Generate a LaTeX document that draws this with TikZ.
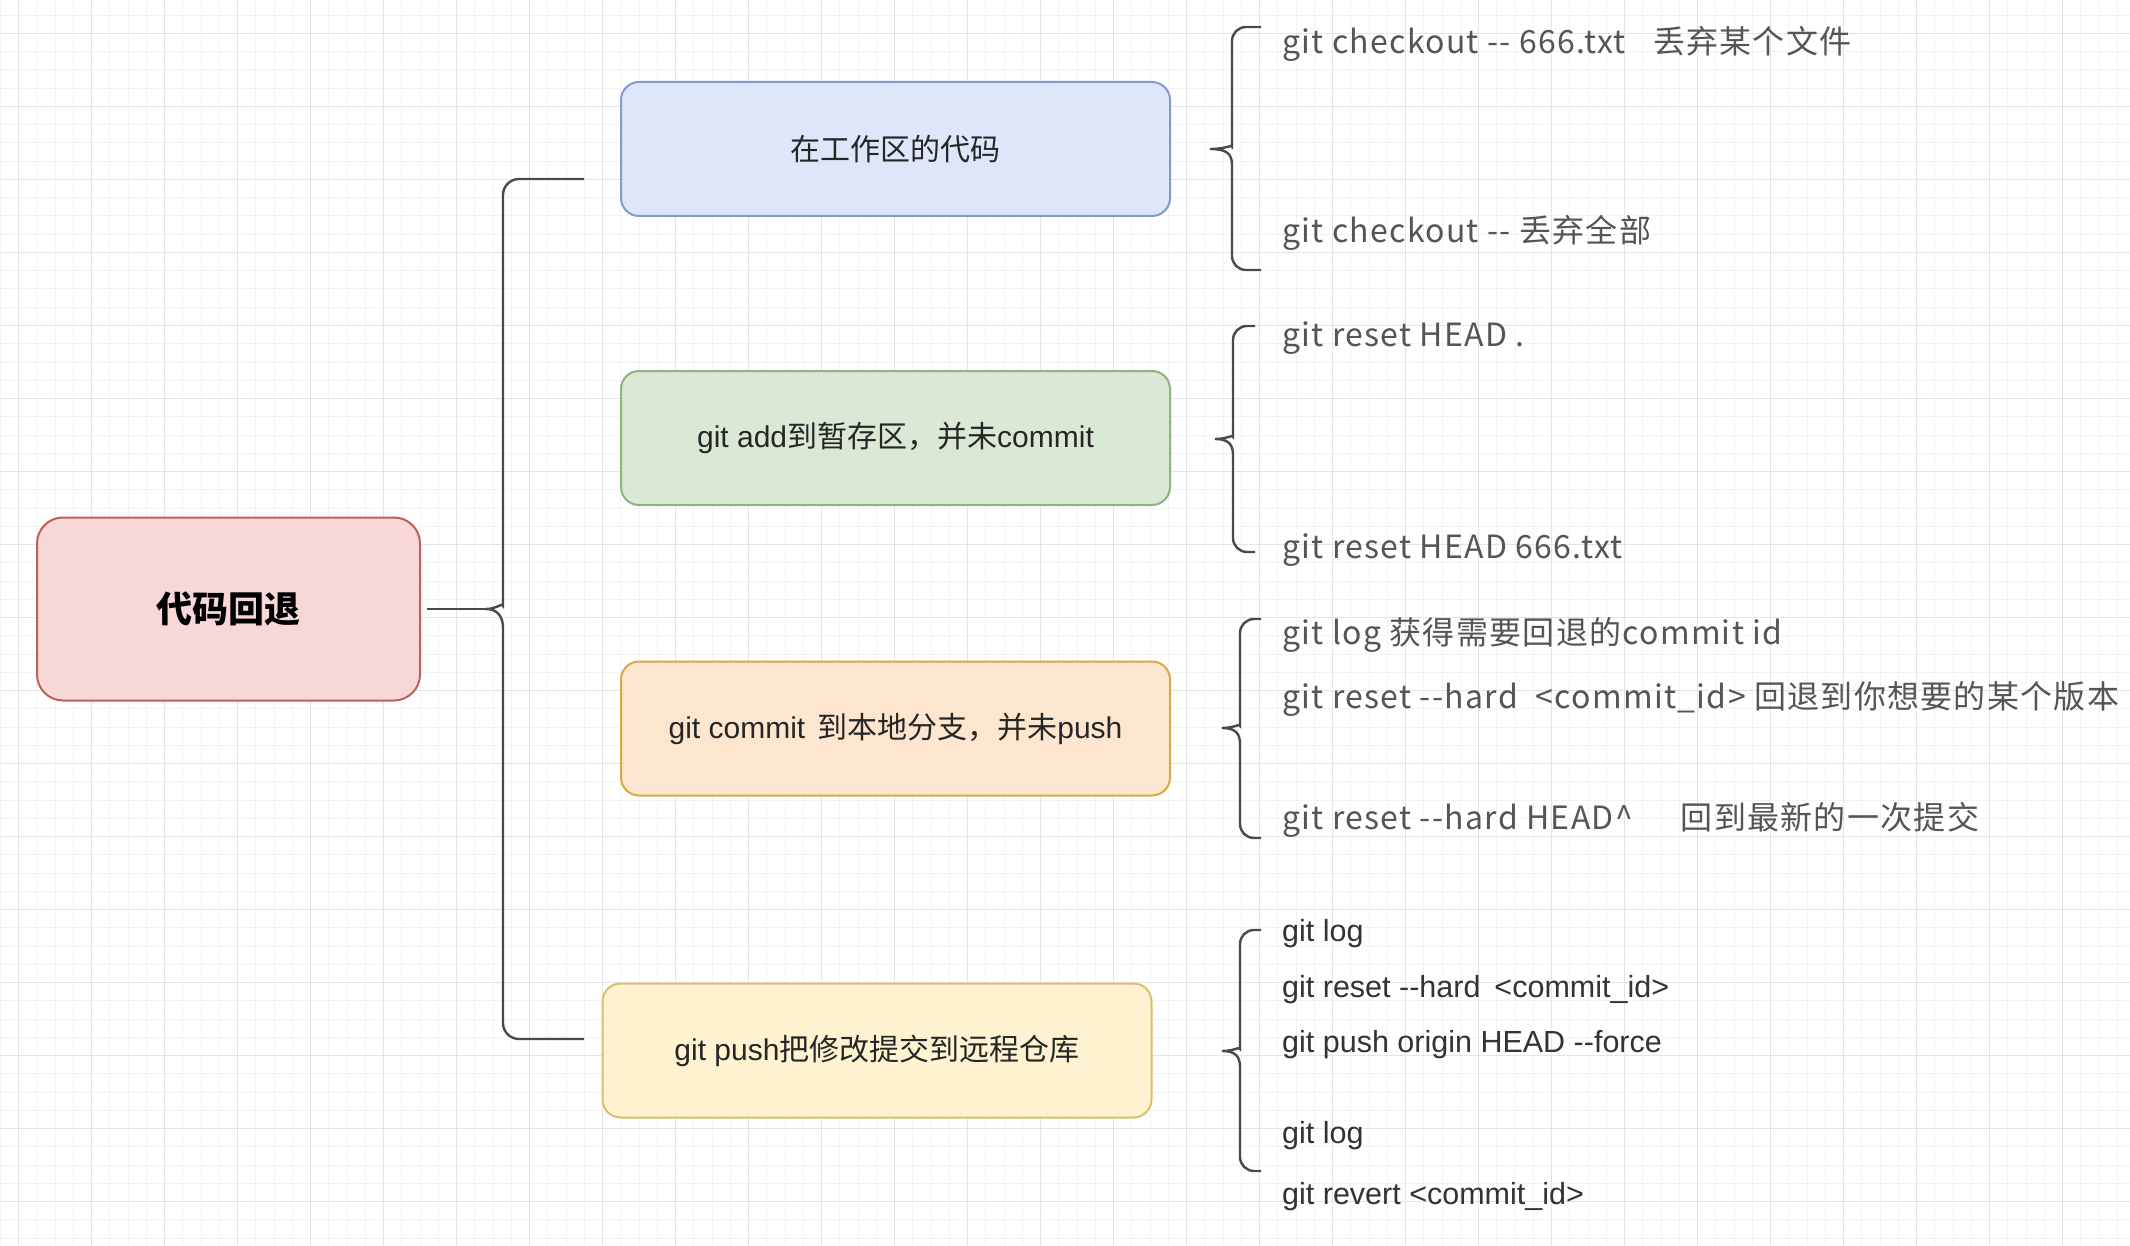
\documentclass[tikz,border=0pt]{standalone}
\usepackage{fontspec}
\newfontfamily\cjk{Noto Sans CJK SC}
\newfontfamily\cjksp[LetterSpace=4]{Noto Sans CJK SC}
\newfontfamily\lat{Liberation Sans}
\definecolor{rootF}{HTML}{F8D8D6}
\definecolor{rootS}{HTML}{B9625C}
\definecolor{blueF}{HTML}{DEE7FA}
\definecolor{blueS}{HTML}{7F9CCB}
\definecolor{greenF}{HTML}{DAE8D5}
\definecolor{greenS}{HTML}{8DB47C}
\definecolor{orF}{HTML}{FDE6CF}
\definecolor{orS}{HTML}{DBA848}
\definecolor{yeF}{HTML}{FEF2D0}
\definecolor{yeS}{HTML}{D9BF6E}
\definecolor{txt}{HTML}{555555}
\definecolor{brc}{HTML}{4A4A4A}
\definecolor{gmaj}{HTML}{E4E4E6}
\definecolor{gmin}{HTML}{F3F3F4}
\newcommand\rbr[6]{\draw[bline, rounded corners=14pt] (#3,#4) -- (#2,#4) -- (#2,#5-16) [sharp corners] .. controls (#2,#5-5) and (#2-5,#5) .. (#1) .. controls (#2-5,#5) and (#2,#5+5) .. (#2,#5+16) [rounded corners=14pt] -- (#2,#6) -- (#3,#6);}
\begin{document}
\begin{tikzpicture}[x=1pt,y=-1pt,
  box/.style={draw, line width=2pt, rounded corners=18pt, inner sep=0pt,
    minimum width=549pt, minimum height=134pt,
    font=\lat\fontsize{30}{36}\selectfont, text=black!85},
  bline/.style={draw=brc, line width=2.4pt},
  item/.style={anchor=west, inner sep=0pt, text=txt, text height=30pt, text depth=7pt,
    font=\cjksp\fontsize{32}{38}\selectfont},
  itemb/.style={anchor=west, inner sep=0pt, text=black!80, text height=29pt, text depth=7pt,
    font=\lat\fontsize{30.5}{36}\selectfont}]
\fill[white] (0,0) rectangle (2130,1246);
\useasboundingbox (0,0) rectangle (2130,1246);
% grid
\foreach \x in {0.25,18.5,...,2130} \draw[gmin, line width=1pt] (\x,0) -- (\x,1246);
\foreach \y in {15.25,33.5,...,1246} \draw[gmin, line width=1pt] (0,\y) -- (2130,\y);
\foreach \x in {18.5,91.5,...,2130} \draw[gmaj, line width=1.6pt] (\x,0) -- (\x,1246);
\foreach \y in {33.5,106.5,...,1246} \draw[gmaj, line width=1.6pt] (0,\y) -- (2130,\y);

% boxes
\node[box, fill=rootF, draw=rootS, minimum width=383pt, minimum height=183pt, rounded corners=26pt,
  font=\cjk\bfseries\fontsize{36}{42}\selectfont, text=black] (root) at (228.5,609) {代码回退};
\node[box, fill=blueF, draw=blueS] (work) at (895.5,149) {{\cjk 在工作区的代码}};
\node[box, fill=greenF, draw=greenS] (stage) at (895.5,438) {git add{\cjk 到暂存区，并未}commit};
\node[box, fill=orF, draw=orS] (local) at (895.5,728.5) {git commit\hspace{12pt}{\cjk 到本地分支，并未}push};
\node[box, fill=yeF, draw=yeS] (remote) at (877,1050.5) {git push{\cjk 把修改提交到远程仓库}};

% left brace
\coordinate (tipL) at (486,609);
\draw[bline, shorten <=6pt] (root.east) -- (tipL);
\draw[bline, rounded corners=16pt] (584,179) -- (503,179) -- (503,590) [sharp corners]
  .. controls (503,602) and (497,609) .. (tipL)
  .. controls (497,609) and (503,616) .. (503,628) [rounded corners=16pt] -- (503,1039) -- (584,1039);

% right braces
\coordinate (tip1) at (1210,149);
\coordinate (tip2) at (1215,439);
\coordinate (tip3) at (1222,728);
\coordinate (tip4) at (1222,1051);
\rbr{tip1}{1232}{1261}{27}{149}{270}
\rbr{tip2}{1233}{1255}{326}{439}{552}
\rbr{tip3}{1240}{1261}{619}{728}{838}
\rbr{tip4}{1240}{1261}{930}{1051}{1171}

% texts
\node[item] (t11) at (1282,42) {git checkout -{}- 666.txt\hspace{27pt}丢弃某个文件};
\node[item] (t12) at (1282,231) {git checkout -{}- 丢弃全部};
\node[item] (t21) at (1282,335) {git reset HEAD .};
\node[item] (t22) at (1282,547) {git reset HEAD 666.txt};
\node[item] (t31) at (1282,633) {git log 获得需要回退的commit id};
\node[item] (t32) at (1282,697) {git reset -{}-hard\hspace{18pt}<commit\_id> 回退到你想要的某个版本};
\node[item] (t33) at (1282,818) {git reset -{}-hard HEAD\textasciicircum\hspace{48pt}回到最新的一次提交};
\node[itemb] (t41) at (1282,930) {git log};
\node[itemb] (t42) at (1282,986) {git reset -{}-hard\hspace{14pt}<commit\_id>};
\node[itemb] (t43) at (1282,1041) {git push origin HEAD -{}-force};
\node[itemb] (t44) at (1282,1132) {git log};
\node[itemb] (t45) at (1282,1193) {git revert <commit\_id>};
\end{tikzpicture}
\end{document}
